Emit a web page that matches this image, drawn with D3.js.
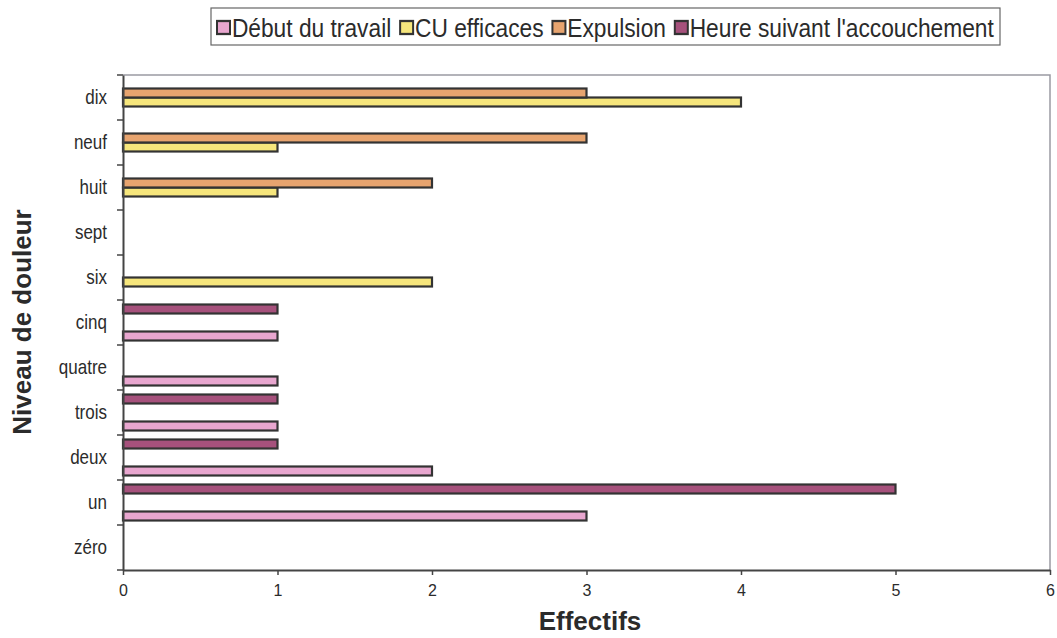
<!DOCTYPE html>
<html>
<head>
<meta charset="utf-8">
<script src="https://cdn.jsdelivr.net/npm/d3@7"></script>
<style>
  body { margin: 0; background: #fff; }
  text { font-family: "Liberation Sans", Arial, sans-serif; fill: #2b2b2b; }
</style>
</head>
<body>
<div id="chart"></div>
<script>
// categories bottom to top
const categories = ["zéro", "un", "deux", "trois", "quatre", "cinq", "six", "sept", "huit", "neuf", "dix"];
const seriesNames = ["Début du travail", "CU efficaces", "Expulsion", "Heure suivant l'accouchement"];
const seriesColors = ["#e8a6cf", "#f6e67c", "#e7a46f", "#a6517c"];

const debutTravail = [0, 3, 2, 1, 1, 1, 0, 0, 0, 0, 0];
const cuEfficaces = [0, 0, 0, 0, 0, 0, 2, 0, 1, 1, 4];
const expulsion   = [0, 0, 0, 0, 0, 0, 0, 0, 2, 3, 3];
const heureSuivant = [0, 5, 1, 1, 0, 1, 0, 0, 0, 0, 0];
const xTicks = [0, 1, 2, 3, 4, 5, 6];

const allSeries = [debutTravail, cuEfficaces, expulsion, heureSuivant];

const W = 1057, H = 638;
const plot = { left: 123, right: 1050, top: 75, bottom: 570 };

const svg = d3.select("#chart").append("svg")
    .attr("width", W)
    .attr("height", H);

const xScale = d3.scaleLinear().domain([0, 6]).range([plot.left, plot.right]);
const yScale = d3.scaleBand().domain(categories).range([plot.bottom, plot.top]).padding(0);
// inner band: first series at the bottom of each group
const inner = d3.scaleBand()
    .domain(seriesNames.slice().reverse())
    .range([yScale.bandwidth() * 0.1, yScale.bandwidth() * 0.9]);

// plot frame (top + right light grey)
svg.append("path")
    .attr("d", `M${plot.left},${plot.top}H${plot.right}V${plot.bottom}`)
    .attr("fill", "none")
    .attr("stroke", "#9a9aa2")
    .attr("stroke-width", 1.5);

// bars
const bars = [];
categories.forEach((c, i) => {
    allSeries.forEach((s, j) => {
        if (s[i] > 0) bars.push({ cat: c, name: seriesNames[j], value: s[i], color: seriesColors[j] });
    });
});

svg.append("g").selectAll("rect")
    .data(bars)
    .join("rect")
    .attr("x", xScale(0))
    .attr("y", d => yScale(d.cat) + inner(d.name))
    .attr("width", d => xScale(d.value) - xScale(0))
    .attr("height", inner.bandwidth())
    .attr("fill", d => d.color)
    .attr("stroke", "#333")
    .attr("stroke-width", 2.2);

// x axis
const xAxis = d3.axisBottom(xScale).tickValues(xTicks).tickFormat(d3.format("d")).tickSize(5).tickSizeOuter(0);
const gx = svg.append("g")
    .attr("transform", `translate(0,${plot.bottom})`)
    .call(xAxis);
gx.select(".domain").attr("stroke", "#444").attr("stroke-width", 2);
gx.selectAll(".tick line").attr("stroke", "#444").attr("stroke-width", 1.5);
gx.selectAll(".tick text")
    .attr("y", 15)
    .attr("font-size", 16)
    .attr("fill", "#2b2b2b")
    .style("font-family", "'Liberation Sans', Arial, sans-serif");

// y axis: labels at band centers, ticks at band borders
const labelSx = 0.85;
const yAxis = d3.axisLeft(yScale).tickSize(0).tickPadding(16);
const gy = svg.append("g")
    .attr("transform", `translate(${plot.left},0)`)
    .call(yAxis);
gy.select(".domain").attr("stroke", "#444").attr("stroke-width", 2);
gy.selectAll(".tick text")
    .attr("x", -16 / labelSx)
    .attr("transform", `scale(${labelSx},1)`)
    .attr("font-size", 20)
    .attr("fill", "#2b2b2b")
    .style("font-family", "'Liberation Sans', Arial, sans-serif");

const borders = categories.map(c => yScale(c)).concat([yScale(categories[0]) + yScale.bandwidth()]);
svg.append("g").selectAll("line")
    .data(borders)
    .join("line")
    .attr("x1", plot.left - 6)
    .attr("x2", plot.left)
    .attr("y1", d => d)
    .attr("y2", d => d)
    .attr("stroke", "#444")
    .attr("stroke-width", 1.5);

// axis titles
svg.append("text")
    .attr("x", 590)
    .attr("y", 630)
    .attr("text-anchor", "middle")
    .attr("font-size", 26)
    .attr("font-weight", "bold")
    .text("Effectifs");

svg.append("text")
    .attr("transform", `translate(31,322) rotate(-90)`)
    .attr("text-anchor", "middle")
    .attr("font-size", 26)
    .attr("font-weight", "bold")
    .text("Niveau de douleur");

// legend
const legendLeft = 211, legendRight = 1000;
const legend = svg.append("g");
const legendBox = legend.append("rect")
    .attr("fill", "#fff")
    .attr("stroke", "#666")
    .attr("stroke-width", 1.2);
const items = legend.append("g");
let lx = 0;
const ly = 28;
seriesNames.forEach((name, j) => {
    items.append("rect")
        .attr("x", lx)
        .attr("y", ly - 7)
        .attr("width", 12)
        .attr("height", 13)
        .attr("fill", seriesColors[j])
        .attr("stroke", "#333")
        .attr("stroke-width", 2);
    const t = items.append("text")
        .attr("x", lx + 17)
        .attr("y", ly + 9)
        .attr("font-size", 26)
        .text(name);
    lx += 17 + t.node().getComputedTextLength() + 10;
});
// squeeze the items to fit the box width
const sx = (legendRight - legendLeft - 12) / (lx - 10);
items.attr("transform", `translate(${legendLeft + 6},0) scale(${sx},1)`);
items.selectAll("rect").attr("stroke-width", 2 / sx).attr("width", 13 / sx);
legendBox
    .attr("x", legendLeft)
    .attr("y", 8)
    .attr("width", legendRight - legendLeft)
    .attr("height", 37);
</script>
</body>
</html>
